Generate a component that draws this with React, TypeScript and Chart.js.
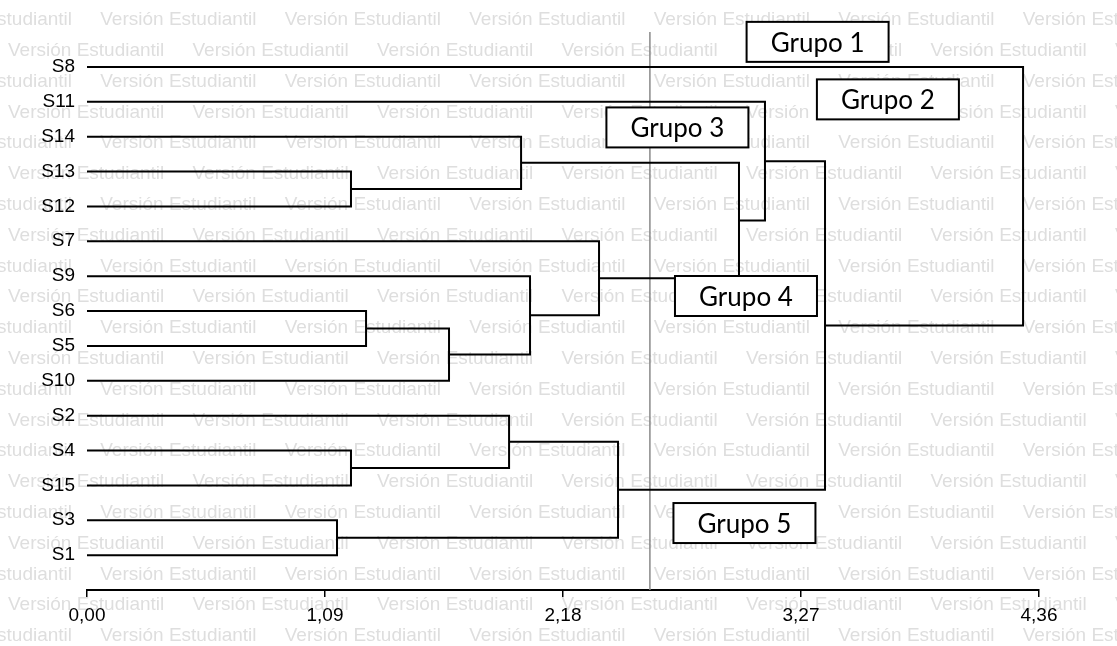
import React, { useEffect, useRef } from 'react';
import { Chart, registerables } from 'chart.js';

Chart.register(...registerables);

// Leaves, top to bottom
const leafLabels = ['S8', 'S11', 'S14', 'S13', 'S12', 'S7', 'S9', 'S6', 'S5', 'S10', 'S2', 'S4', 'S15', 'S3', 'S1'];

// Linkage: ids 0-14 are leaves, merge i creates cluster id 15 + i
const mergeLeft = [13, 3, 11, 7, 18, 10, 2, 6, 5, 20, 21, 1, 26, 0];
const mergeRight = [14, 4, 12, 8, 9, 17, 16, 19, 22, 15, 23, 25, 24, 27];
const mergeHeight = [1.145, 1.209, 1.209, 1.278, 1.658, 1.933, 1.988, 2.029, 2.345, 2.432, 2.986, 3.105, 3.38, 4.287];

// Cut level drawn as a vertical reference line
const cutHeight = 2.578;

// Distance axis ticks
const xTickValues = [0, 1.09, 2.18, 3.27, 4.36];

// Group tags and where they sit (distance, leaf row)
const groupLabels = ['Grupo 1', 'Grupo 2', 'Grupo 3', 'Grupo 4', 'Grupo 5'];
const groupAtX = [3.346, 3.668, 2.704, 3.018, 3.011];
const groupAtY = [-0.717, 0.932, 1.736, 6.57, 13.08];

const WATERMARK = 'Versión Estudiantil';

function buildLinks() {
  const nodeX: number[] = leafLabels.map(() => 0);
  const nodeY: number[] = leafLabels.map((_, i) => i);
  const links: { x: number; y: number }[][] = [];
  for (let i = 0; i < mergeHeight.length; i++) {
    const l = mergeLeft[i];
    const r = mergeRight[i];
    const h = mergeHeight[i];
    links.push([
      { x: nodeX[l], y: nodeY[l] },
      { x: h, y: nodeY[l] },
      { x: h, y: nodeY[r] },
      { x: nodeX[r], y: nodeY[r] },
    ]);
    nodeX.push(h);
    nodeY.push((nodeY[l] + nodeY[r]) / 2);
  }
  return links;
}

const watermarkPlugin = {
  id: 'watermark',
  beforeDraw(chart: any) {
    const { ctx, width, height } = chart;
    ctx.save();
    ctx.fillStyle = '#ffffff';
    ctx.fillRect(0, 0, width, height);
    ctx.font = '19px "Liberation Sans", Arial, sans-serif';
    ctx.fillStyle = 'rgb(222,222,222)';
    ctx.textBaseline = 'middle';
    ctx.textAlign = 'left';
    const period = 184.5;
    for (let k = 0; k <= 20; k++) {
      const y = 20 + 30.8 * k;
      const start = k % 2 === 0 ? 100.25 : 8;
      for (let x = start - period; x < width; x += period) {
        ctx.fillText(WATERMARK, x, y);
      }
    }
    ctx.restore();
  },
};

const groupTagPlugin = {
  id: 'groupTags',
  afterDraw(chart: any) {
    const { ctx } = chart;
    const xs = chart.scales.x;
    const ys = chart.scales.y;
    ctx.save();
    const w = 142;
    const h = 40;
    groupLabels.forEach((text, i) => {
      const cx = xs.getPixelForValue(groupAtX[i]);
      const cy = ys.getPixelForValue(groupAtY[i]);
      ctx.fillStyle = '#ffffff';
      ctx.fillRect(cx - w / 2, cy - h / 2, w, h);
      ctx.strokeStyle = '#000000';
      ctx.lineWidth = 2;
      ctx.strokeRect(cx - w / 2, cy - h / 2, w, h);
      ctx.font = '26px Lato, "Open Sans", sans-serif';
      ctx.fillStyle = '#000000';
      ctx.textAlign = 'center';
      ctx.textBaseline = 'alphabetic';
      const cap = ctx.measureText('G').actualBoundingBoxAscent;
      ctx.fillText(text, cx, cy + cap / 2);
    });
    ctx.restore();
  },
};

export default function App() {
  const canvasRef = useRef<HTMLCanvasElement | null>(null);

  useEffect(() => {
    const canvas = canvasRef.current;
    if (!canvas) return;
    const links = buildLinks();
    const datasets: any[] = links.map((pts) => ({
      data: pts,
      showLine: true,
      borderColor: '#000000',
      borderWidth: 2,
      pointRadius: 0,
      tension: 0,
      fill: false,
    }));
    datasets.push({
      data: [
        { x: cutHeight, y: -1 },
        { x: cutHeight, y: 15 },
      ],
      showLine: true,
      borderColor: '#8a8a8a',
      borderWidth: 1.5,
      pointRadius: 0,
      fill: false,
    });

    const chart = new Chart(canvas, {
      type: 'scatter',
      data: { datasets },
      options: {
        animation: false,
        responsive: false,
        devicePixelRatio: 1,
        layout: { padding: { left: 0, right: 78, top: 32, bottom: 0 } },
        plugins: {
          legend: { display: false },
          tooltip: { enabled: false },
        },
        scales: {
          x: {
            type: 'linear',
            min: 0,
            max: 4.36,
            afterBuildTicks: (scale: any) => {
              scale.ticks = xTickValues.map((v) => ({ value: v }));
            },
            afterFit: (scale: any) => {
              scale.height = 56;
            },
            border: { display: true, color: '#000000', width: 2 },
            grid: {
              display: true,
              drawOnChartArea: false,
              drawTicks: true,
              tickLength: 7,
              color: '#000000',
              lineWidth: 1.5,
            },
            ticks: {
              autoSkip: false,
              maxRotation: 0,
              padding: 7,
              color: '#000000',
              font: { family: '"Liberation Sans", Arial, sans-serif', size: 19 },
              callback: (v: any) => Number(v).toFixed(2).replace('.', ','),
            },
          },
          y: {
            type: 'linear',
            min: -1,
            max: 15,
            reverse: true,
            afterBuildTicks: (scale: any) => {
              scale.ticks = leafLabels.map((_, i) => ({ value: i }));
            },
            afterFit: (scale: any) => {
              scale.width = 87;
            },
            border: { display: false },
            grid: { display: false, drawTicks: false },
            ticks: {
              autoSkip: false,
              padding: 12,
              color: '#000000',
              font: { family: '"Liberation Sans", Arial, sans-serif', size: 19 },
              callback: (v: any) => leafLabels[Math.round(Number(v))] ?? '',
            },
          },
        },
      },
      plugins: [watermarkPlugin, groupTagPlugin],
    });

    return () => chart.destroy();
  }, []);

  return (
    <div style={{ position: 'fixed', left: 0, top: 0, width: 1117, height: 646, background: '#fff' }}>
      <canvas ref={canvasRef} width={1117} height={646} style={{ display: 'block' }} />
    </div>
  );
}
